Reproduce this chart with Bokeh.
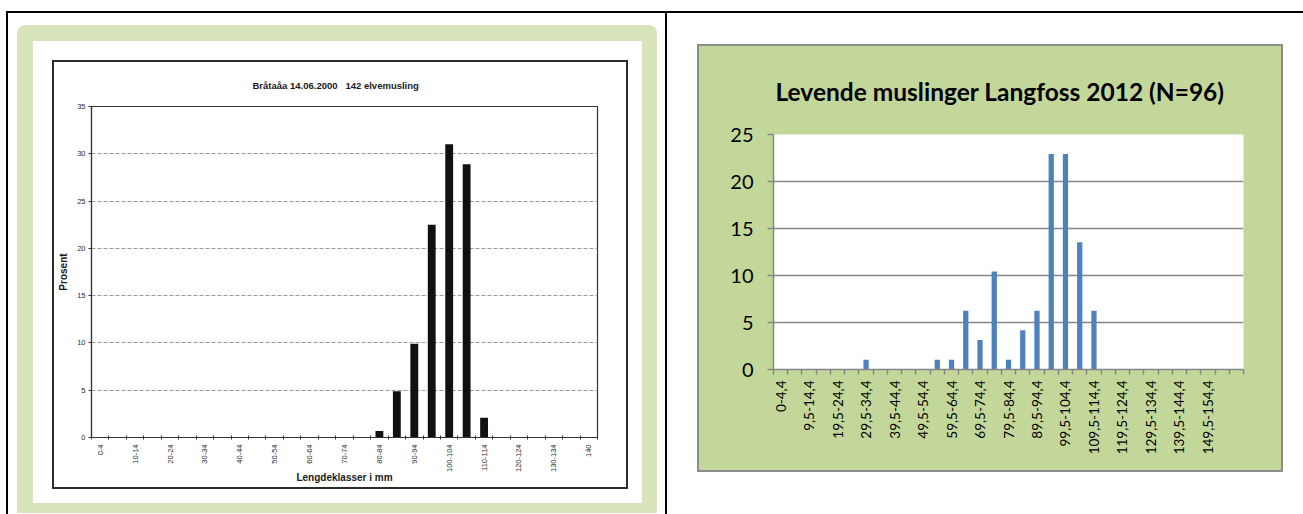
import math
from bokeh.plotting import figure
from bokeh.models import FixedTicker
from bokeh.layouts import row
from bokeh.embed import file_html
from bokeh.resources import INLINE

# ---------------- data ----------------
left_title = "Bråtaåa 14.06.2000 \u00a0 142 elvemusling"
left_ylabel = "Prosent"
left_xlabel = "Lengdeklasser i mm"
left_classes = ["0-4", "5-9", "10-14", "15-19", "20-24", "25-29", "30-34", "35-39",
                "40-44", "45-49", "50-54", "55-59", "60-64", "65-69", "70-74", "75-79",
                "80-84", "85-89", "90-94", "95-99", "100-104", "105-109", "110-114",
                "115-119", "120-124", "125-129", "130-134", "135-139", "140"]
left_percent = [0, 0, 0, 0, 0, 0, 0, 0,
                0, 0, 0, 0, 0, 0, 0, 0,
                0.7, 4.9, 9.9, 22.5, 31.0, 28.9, 2.1,
                0, 0, 0, 0, 0, 0]
left_yticks = [0, 5, 10, 15, 20, 25, 30, 35]

right_title = "Levende muslinger Langfoss 2012 (N=96)"
right_classes = ["0-4,4", "4,5-9,4", "9,5-14,4", "14,5-19,4", "19,5-24,4", "24,5-29,4",
                 "29,5-34,4", "34,5-39,4", "39,5-44,4", "44,5-49,4", "49,5-54,4",
                 "54,5-59,4", "59,5-64,4", "64,5-69,4", "69,5-74,4", "74,5-79,4",
                 "79,5-84,4", "84,5-89,4", "89,5-94,4", "94,5-99,4", "99,5-104,4",
                 "104,5-109,4", "109,5-114,4", "114,5-119,4", "119,5-124,4",
                 "124,5-129,4", "129,5-134,4", "134,5-139,4", "139,5-144,4",
                 "144,5-149,4", "149,5-154,4", "154,5-159,4", ""]
right_percent = [0, 0, 0, 0, 0, 0, 1.04, 0, 0, 0, 0,
                 1.04, 1.04, 6.25, 3.13, 10.42, 1.04, 4.17, 6.25, 22.92, 22.92,
                 13.54, 6.25, 0, 0, 0, 0, 0, 0, 0, 0, 0, 0]
right_yticks = [0, 5, 10, 15, 20, 25]

# ---------------- layout (page pixels) ----------------
H = 514
LW, RW = 665, 638
L_FL, L_FR, L_FT, L_FB = 91, 597, 106, 437          # left plot frame
R_FL, R_FR, R_FT, R_FB = 773, 1243, 134, 369        # right plot frame (page coords)


def css_boxes(boxes):
    """boxes: list of (x, y, w, h, image) in the element's own pixels, top layer first"""
    imgs = ", ".join(c if "gradient" in c else f"linear-gradient({c}, {c})" for *_, c in boxes)
    pos = ", ".join(f"{x}px {y}px" for x, y, w, h, c in boxes)
    size = ", ".join(f"{w}px {h}px" for x, y, w, h, c in boxes)
    return {"background-image": imgs, "background-position": pos,
            "background-size": size, "background-repeat": "no-repeat",
            "background-color": "white"}


green_l = "#d8e4bc"
corner = f"radial-gradient(circle at 8px 8px, {green_l} 7.5px, rgba(255,255,255,0) 8.2px)"
left_css = css_boxes([
    (6, 11, LW - 6, 2, "#000"),          # table top line
    (6, 12, 2, H - 12, "#000"),          # table left line
    (52, 60, 576, 2, "#2b2b2b"),         # scanned chart border
    (52, 487, 576, 2, "#2b2b2b"),
    (52, 60, 2, 429, "#2b2b2b"),
    (626, 60, 2, 429, "#2b2b2b"),
    (33, 41, 609, 462, "#ffffff"),       # white inner area
    (17, 25, 16, 16, corner),            # green frame with rounded top corners
    (641, 25, 16, 16, corner),
    (25, 25, 624, 8, green_l),
    (17, 33, 640, 480, green_l),
])

right_css = css_boxes([
    (0, 11, RW, 2, "#000"),              # table top line
    (0, 12, 2, H - 12, "#000"),          # column separator
    (32, 44, 586, 2, "#8c8c8c"),         # chart-area border
    (32, 470, 586, 2, "#8c8c8c"),
    (32, 44, 2, 428, "#8c8c8c"),
    (616, 44, 2, 428, "#8c8c8c"),
    (32, 44, 586, 428, "#c4d79b"),       # green chart area
])

# ================= LEFT (scanned chart) =================
nL = len(left_classes)
pl = figure(width=LW, height=H, x_range=(-0.5, nL - 0.5), y_range=(0, 35),
            output_backend="svg", toolbar_location=None, title=left_title,
            min_border_left=L_FL, min_border_right=LW - L_FR,
            min_border_top=L_FT, min_border_bottom=H - L_FB, styles=left_css,
            frame_align=False)
pl.background_fill_color = "white"
pl.border_fill_color = None
pl.outline_line_color = "#333333"
pl.outline_line_width = 1.2
pl.title.align = "left"
pl.title.offset = 161
pl.title.text_font = "Liberation Sans"
pl.title.text_font_size = "9.5px"
pl.title.text_font_style = "bold"
pl.title.text_color = "#1a1a1a"
pl.title.standoff = 31

pl.vbar(x=list(range(nL)), top=left_percent, width=0.45,
        fill_color="#111111", line_color=None)

pl.xaxis.ticker = FixedTicker(ticks=list(range(0, nL, 2)),
                              minor_ticks=[i + 0.5 for i in range(-1, nL)])
pl.xaxis.major_label_overrides = {i: left_classes[i] for i in range(0, nL, 2)}
pl.xaxis.major_label_orientation = math.pi / 2
pl.xaxis.major_tick_out = 0
pl.xaxis.major_tick_in = 0
pl.xaxis.minor_tick_out = 2
pl.xaxis.minor_tick_in = 2
pl.xaxis.minor_tick_line_color = "#333333"
pl.xaxis.major_label_standoff = 5
pl.xaxis.axis_label = left_xlabel
pl.xaxis.axis_label_standoff = -3
pl.yaxis.ticker = FixedTicker(ticks=left_yticks)
pl.yaxis.major_tick_out = 3
pl.yaxis.major_tick_in = 0
pl.yaxis.minor_tick_line_color = None
pl.yaxis.major_label_standoff = 3
pl.yaxis.axis_label = left_ylabel
pl.yaxis.axis_label_standoff = 5
for ax in (pl.xaxis[0], pl.yaxis[0]):
    ax.axis_line_color = "#333333"
    ax.axis_line_width = 1.2
    ax.major_tick_line_color = "#333333"
    ax.major_label_text_font = "Liberation Sans"
    ax.major_label_text_font_size = "7.5px"
    ax.major_label_text_color = "#2a2a2a"
    ax.axis_label_text_font = "Liberation Sans"
    ax.axis_label_text_font_size = "10px"
    ax.axis_label_text_font_style = "bold"
    ax.axis_label_text_color = "#1a1a1a"
pl.xgrid.visible = False
pl.ygrid.grid_line_color = "#9a9a9a"
pl.ygrid.grid_line_dash = "4 2"
pl.ygrid.grid_line_width = 1

# ================= RIGHT (Excel chart) =================
nR = len(right_classes)
pr = figure(width=RW, height=H, x_range=(-0.5, nR - 0.5), y_range=(0, 25),
            output_backend="svg", toolbar_location=None, title=right_title,
            min_border_left=R_FL - LW, min_border_right=LW + RW - R_FR,
            min_border_top=R_FT, min_border_bottom=H - R_FB, styles=right_css,
            frame_align=False)
pr.background_fill_color = "white"
pr.border_fill_color = None
pr.outline_line_color = None
pr.title.align = "left"
pr.title.offset = 2
pr.title.text_font = "Lato"
pr.title.text_font_size = "24.5px"
pr.title.text_font_style = "bold"
pr.title.text_color = "black"
pr.title.standoff = 58

pr.vbar(x=list(range(nR)), top=right_percent, width=0.37,
        fill_color="#4f81bd", line_color=None)

grey = "#868686"
pr.xaxis.ticker = FixedTicker(ticks=[i for i in range(0, nR, 2) if right_classes[i]],
                              minor_ticks=[i + 0.5 for i in range(-1, nR)])
pr.xaxis.major_label_overrides = {i: right_classes[i] for i in range(0, nR, 2)}
pr.xaxis.major_label_orientation = math.pi / 2
pr.xaxis.major_tick_out = 0
pr.xaxis.major_tick_in = 0
pr.xaxis.minor_tick_out = 5
pr.xaxis.minor_tick_in = 0
pr.xaxis.minor_tick_line_color = grey
pr.xaxis.minor_tick_line_width = 1.5
pr.xaxis.major_label_standoff = 6
pr.xaxis.major_label_text_font_size = "13.5px"
pr.yaxis.ticker = FixedTicker(ticks=right_yticks)
pr.yaxis.major_tick_out = 6
pr.yaxis.major_tick_in = 0
pr.yaxis.major_tick_line_width = 1.5
pr.yaxis.minor_tick_line_color = None
pr.yaxis.major_label_standoff = 14
pr.yaxis.major_label_text_font_size = "20px"
for ax in (pr.xaxis[0], pr.yaxis[0]):
    ax.axis_line_color = grey
    ax.axis_line_width = 1.5
    ax.major_tick_line_color = grey
    ax.major_label_text_font = "Lato"
    ax.major_label_text_color = "black"
pr.xgrid.visible = False
pr.ygrid.grid_line_color = grey
pr.ygrid.grid_line_width = 1.5

layout = row(pl, pr, spacing=0)
open("out.html", "w").write(file_html(layout, INLINE))
